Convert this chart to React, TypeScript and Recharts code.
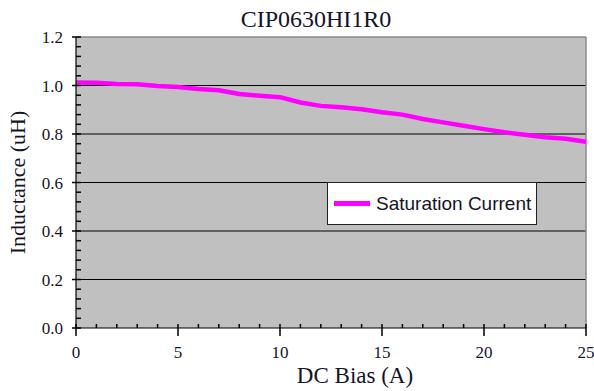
import { LineChart, Line, XAxis, YAxis, CartesianGrid, ReferenceLine, Legend } from "recharts";

const biasAmps = [0, 1, 2, 3, 4, 5, 6, 7, 8, 9, 10, 11, 12, 13, 14, 15, 16, 17, 18, 19, 20, 21, 22, 23, 24, 25];
const inductanceUH = [
    1.012, 1.011, 1.006, 1.005, 0.998, 0.994, 0.986, 0.98, 0.965, 0.958, 0.952, 0.93, 0.916,
    0.91, 0.902, 0.89, 0.88, 0.862, 0.848, 0.834, 0.82, 0.807, 0.797, 0.787, 0.78, 0.768,
];

const xMajorTicks = [0, 5, 10, 15, 20, 25];
const yMajorTicks = [0, 0.2, 0.4, 0.6, 0.8, 1.0, 1.2];
const gridValues = [0.2, 0.4, 0.6, 0.8, 1.0];

// minor ticks: every 1 A on x, every 0.04 uH on y
const xTicks = Array.from({ length: 26 }, (_, i) => i);
const yTicks = Array.from({ length: 31 }, (_, i) => Math.round(i * 4) / 100);

const data = biasAmps.map((b, i) => ({ bias: b, inductance: inductanceUH[i] }));

const SERIF = "'Liberation Serif', 'Times New Roman', serif";
const SANS = "'Liberation Sans', Arial, sans-serif";
const TEXT = "#14142a";

function XTick(props: any) {
    const { x, y, payload } = props;
    const v = payload.value;
    const major = xMajorTicks.includes(v);
    return (
        <g>
            <path d={`M${x},${y - 4}V${major ? y + 8 : y}`} stroke="#000" strokeWidth={1.5} fill="none" />
            {major && (
                <text x={x} y={y + 30} textAnchor="middle" fontFamily={SERIF} fontSize={17} fill={TEXT}>
                    {v}
                </text>
            )}
        </g>
    );
}

function YTick(props: any) {
    const { x, y, payload } = props;
    const v = payload.value;
    const major = yMajorTicks.some((t) => Math.abs(t - v) < 1e-6);
    return (
        <g>
            <path d={`M${major ? x - 4 : x},${y}H${x + 5}`} stroke="#000" strokeWidth={1.5} fill="none" />
            {major && (
                <text x={x - 13} y={y + 6} textAnchor="end" fontFamily={SERIF} fontSize={17} fill={TEXT}>
                    {v.toFixed(1)}
                </text>
            )}
        </g>
    );
}

function LegendBox() {
    return (
        <div
            style={{
                boxSizing: "border-box",
                width: 210,
                height: 43,
                border: "1.5px solid #222",
                background: "#fff",
                display: "flex",
                alignItems: "center",
                paddingLeft: 6,
            }}
        >
            <div style={{ width: 36, height: 5, background: "#ff00ff", marginRight: 6 }} />
            <span style={{ fontFamily: SANS, fontSize: 19, color: TEXT, whiteSpace: "nowrap" }}>
                Saturation Current
            </span>
        </div>
    );
}

export default function App() {
    return (
        <div style={{ position: "absolute", left: 0, top: 0, width: 594, height: 391, background: "#fff" }}>
            <div
                style={{
                    position: "absolute",
                    left: 116,
                    top: 8,
                    width: 400,
                    textAlign: "center",
                    fontFamily: SERIF,
                    fontSize: 24,
                    lineHeight: "22px",
                    color: TEXT,
                }}
            >
                CIP0630HI1R0
            </div>
            <LineChart width={594} height={391} data={data} margin={{ top: 37, right: 8, bottom: 0, left: 0 }}>
                <CartesianGrid
                    vertical={false}
                    horizontalValues={gridValues}
                    fill="#c0c0c0"
                    fillOpacity={1}
                    stroke="#000"
                    strokeWidth={1.2}
                />
                <XAxis
                    dataKey="bias"
                    type="number"
                    domain={[0, 25]}
                    ticks={xTicks}
                    interval={0}
                    height={63}
                    tickSize={0}
                    tickMargin={0}
                    tickLine={false}
                    tick={XTick}
                    axisLine={{ stroke: "#000", strokeWidth: 1.2 }}
                    label={{
                        value: "DC Bias (A)",
                        position: "insideBottom",
                        offset: 8,
                        dx: 24,
                        fill: TEXT,
                        style: { fontFamily: SERIF, fontSize: 23 },
                    }}
                />
                <YAxis
                    type="number"
                    domain={[0, 1.2]}
                    ticks={yTicks}
                    interval={0}
                    width={76}
                    tickSize={0}
                    tickMargin={0}
                    tickLine={false}
                    tick={YTick}
                    axisLine={{ stroke: "#000", strokeWidth: 1.2 }}
                    label={{
                        value: "Inductance (uH)",
                        angle: -90,
                        position: "insideLeft",
                        offset: 17,
                        fill: TEXT,
                        style: { fontFamily: SERIF, fontSize: 22, textAnchor: "middle" },
                    }}
                />
                <ReferenceLine y={1.2} stroke="#8a8a8a" strokeWidth={1.5} />
                <ReferenceLine x={25} stroke="#8a8a8a" strokeWidth={1.5} />
                <Legend
                    layout="vertical"
                    align="center"
                    verticalAlign="middle"
                    content={<LegendBox />}
                    wrapperStyle={{ left: 327, top: 182, width: 210, height: 43 }}
                />
                <Line
                    type="linear"
                    dataKey="inductance"
                    name="Saturation Current"
                    stroke="#ff00ff"
                    strokeWidth={4.5}
                    dot={false}
                    isAnimationActive={false}
                />
            </LineChart>
        </div>
    );
}
